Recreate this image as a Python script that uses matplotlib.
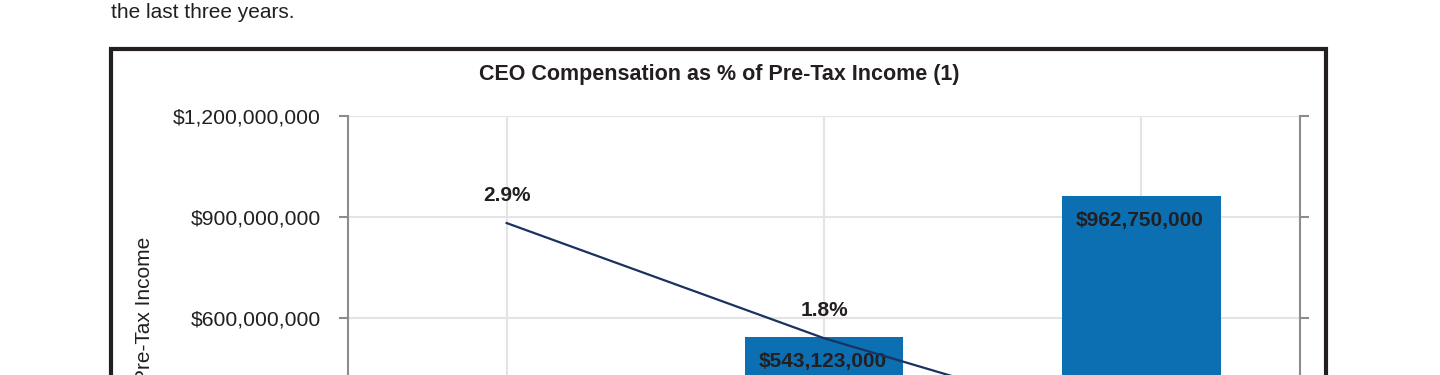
import matplotlib
matplotlib.use("Agg")
import matplotlib.pyplot as plt
from matplotlib.patches import Rectangle
from matplotlib.ticker import FuncFormatter

plt.rcParams['font.family'] = ['Liberation Sans', 'DejaVu Sans']

# ---- data ----
years = ["Year 1", "Year 2", "Year 3"]
pretax_income = [318500000, 543123000, 962750000]
ceo_pct = [2.94, 1.80, 0.87]
pct_labels = ["2.9%", "1.8%", "0.9%"]
y_ticks = [0, 300000000, 600000000, 900000000, 1200000000]
pct_ticks = [0, 1, 2, 3, 4]

TXT = "#231f20"
BAR = "#0b6fb2"
LINE = "#1b3260"
GRID = "#e4e4e4"
SPINE = "#8c8c8c"

W, H = 1440, 375
fig = plt.figure(figsize=(W / 100, H / 100), dpi=100)

def fx(px):
    return px / W

def fy(py):
    return 1 - py / H

# intro text (cropped paragraph)
fig.text(fx(111), fy(17.5), "the last three years.", fontsize=15, color=TXT,
         ha="left", va="baseline")

# chart frame
frame = Rectangle((fx(111), fy(700)), fx(1326) - fx(111), fy(49) - fy(700),
                  transform=fig.transFigure, fill=False, edgecolor="#231f20",
                  linewidth=3.0, clip_on=False, zorder=0)
fig.patches.append(frame)

fig.text(fx(719), fy(74.5), "CEO Compensation as % of Pre-Tax Income (1)",
         fontsize=15.5, fontweight="bold", color=TXT, ha="center", va="center")

# axes: top at 116px, zero line at 520px (below the crop)
ax = fig.add_axes([fx(348), fy(520), fx(1300) - fx(348), fy(116) - fy(520)])
ax2 = ax.twinx()

x = list(range(len(years)))
bars = ax.bar(x, pretax_income, width=0.5, color=BAR, zorder=2)
ax.set_xlim(-0.5, len(years) - 0.5)
ax.set_ylim(0, 1200000000)
ax.set_yticks(y_ticks)
ax.yaxis.set_major_formatter(FuncFormatter(lambda v, p: "${:,.0f}".format(v)))
ax.set_xticks(x)
ax.set_xticklabels(years)
ax.grid(True, color=GRID, linewidth=1.5, zorder=0)
ax.set_axisbelow(True)

for s in ["top", "bottom"]:
    ax.spines[s].set_visible(False)
    ax2.spines[s].set_visible(False)
ax.spines["left"].set_color(SPINE)
ax.spines["left"].set_linewidth(1.5)
ax.spines["right"].set_visible(False)
ax2.spines["left"].set_visible(False)
ax2.spines["right"].set_color(SPINE)
ax2.spines["right"].set_linewidth(1.5)

ax.tick_params(axis="y", length=6.5, width=1.5, color=SPINE, pad=13,
               labelsize=15.2, labelcolor=TXT)
ax.tick_params(axis="x", length=0, labelsize=15, labelcolor=TXT)

ax.set_ylabel("Pre-Tax Income", fontsize=15, color=TXT, va="center")
ax.yaxis.set_label_coords(-0.2135, 0.52)

for xi, v in zip(x, pretax_income):
    ax.annotate("${:,.0f}".format(v), (xi, v), xytext=(-1, -17.5),
                textcoords="offset points", ha="center", va="center",
                fontsize=15, fontweight="bold", color=TXT, zorder=4)

ax2.set_ylim(0, 4)
ax2.set_yticks(pct_ticks)
ax2.tick_params(axis="y", length=6.5, width=1.5, color=SPINE, labelright=False)
ax2.plot(x, ceo_pct, color=LINE, linewidth=1.6, zorder=5)
for xi, v, lab in zip(x, ceo_pct, pct_labels):
    ax2.annotate(lab, (xi, v), xytext=(0, 20), textcoords="offset points",
                 ha="center", va="center", fontsize=15, fontweight="bold",
                 color=TXT)

fig.savefig("out.png", dpi=100)
